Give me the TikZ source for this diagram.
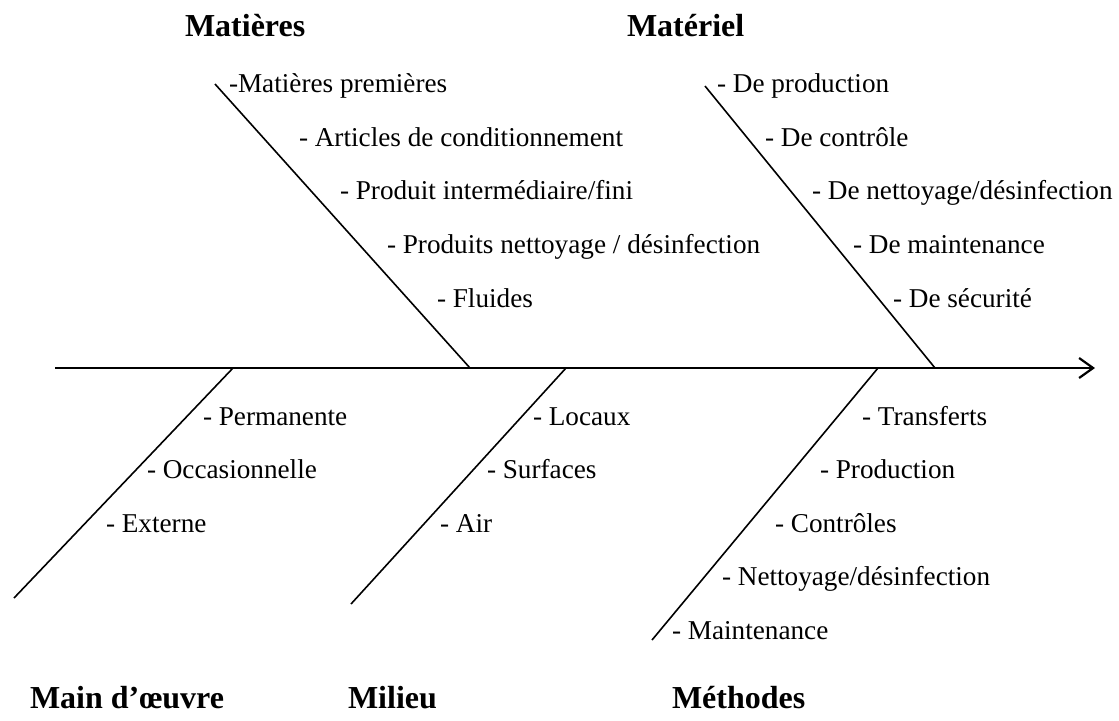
\documentclass[tikz,border=0pt]{standalone}
\usepackage{fontspec}
\setmainfont{Liberation Serif}
\usetikzlibrary{arrows.meta}
\begin{document}
\begin{tikzpicture}[x=0.5pt,y=-0.5pt,inner sep=0pt,outer sep=0pt,line width=0.8pt,
item/.style={anchor=west,text height=0.8em,text depth=0.1em,font=\fontsize{13.6}{16}\selectfont},
cause/.style={anchor=west,text height=0.8em,text depth=0.1em,font=\fontsize{16}{19}\selectfont\bfseries}]
\useasboundingbox (0,0) rectangle (1119,720);

% causes
\draw (185,29) node[cause] (matieres) {Matières};
\draw (627,29) node[cause] (materiel) {Matériel};
\draw (30,701) node[cause] (mainoeuvre) {Main d’œuvre};
\draw (348,701) node[cause] (milieu) {Milieu};
\draw (672,701) node[cause] (methodes) {Méthodes};

% spine and bones
\coordinate (tail) at (55,368);
\coordinate (head) at (1095,368);
\coordinate (b1top) at (215,84);   \coordinate (b1) at (470,368);
\coordinate (b2top) at (705,86);   \coordinate (b2) at (935,368);
\coordinate (b3end) at (14,598);   \coordinate (b3) at (233,368);
\coordinate (b4end) at (351,604);  \coordinate (b4) at (566,368);
\coordinate (b5end) at (652,640);  \coordinate (b5) at (878,368);
\draw[line width=1.3pt,-{Straight Barb[length=7pt,width=10pt,line width=1.1pt]}] (tail) -- (head);
\draw (b1top) -- (b1);
\draw (b2top) -- (b2);
\draw (b3) -- (b3end);
\draw (b4) -- (b4end);
\draw (b5) -- (b5end);

% Matières
\draw (229,85) node[item] (m1) {-Matières premières};
\draw (299,139) node[item] (m2) {- Articles de conditionnement};
\draw (340,192) node[item] (m3) {- Produit intermédiaire/fini};
\draw (387,246) node[item] (m4) {- Produits nettoyage / désinfection};
\draw (437,300) node[item] (m5) {- Fluides};
% Matériel
\draw (717,85) node[item] (e1) {- De production};
\draw (765,139) node[item] (e2) {- De contrôle};
\draw (812,192) node[item] (e3) {- De nettoyage/désinfection};
\draw (853,246) node[item] (e4) {- De maintenance};
\draw (893,300) node[item] (e5) {- De sécurité};
% Main d'oeuvre
\draw (203,418) node[item] (o1) {- Permanente};
\draw (147,471) node[item] (o2) {- Occasionnelle};
\draw (106,525) node[item] (o3) {- Externe};
% Milieu
\draw (533,418) node[item] (l1) {- Locaux};
\draw (487,471) node[item] (l2) {- Surfaces};
\draw (440,525) node[item] (l3) {- Air};
% Méthodes
\draw (862,418) node[item] (t1) {- Transferts};
\draw (820,471) node[item] (t2) {- Production};
\draw (775,525) node[item] (t3) {- Contrôles};
\draw (722,578) node[item] (t4) {- Nettoyage/désinfection};
\draw (672,632) node[item] (t5) {- Maintenance};
\end{tikzpicture}
\end{document}
